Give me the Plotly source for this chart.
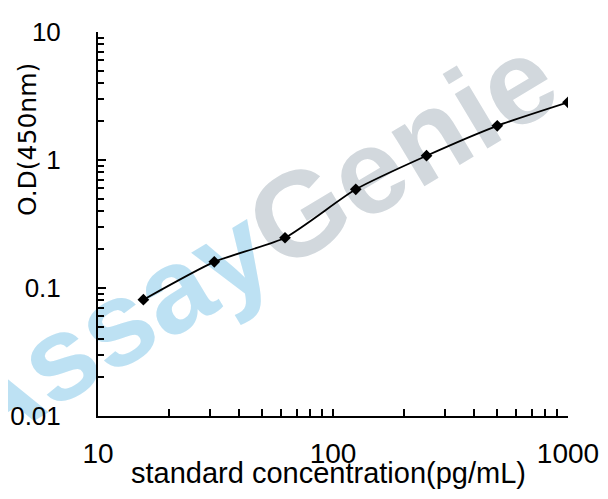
import plotly.graph_objects as go

# standard curve: concentration (pg/mL) vs O.D. at 450 nm
concentration = [15.6, 31.25, 62.5, 125, 250, 500, 1000]
od_450 = [0.081, 0.160, 0.247, 0.59, 1.08, 1.85, 2.82]

x_ticks = [10, 100, 1000]
x_tick_text = ["10", "100", "1000"]
y_ticks = [0.01, 0.1, 1, 10]
y_tick_text = ["0.01", "0.1", "1", "10"]

sans = "Liberation Sans, Arial"

fig = go.Figure()
fig.add_trace(go.Scatter(
    x=concentration, y=od_450,
    mode="lines+markers",
    line=dict(color="black", width=1.8, shape="spline", smoothing=0.6),
    marker=dict(symbol="diamond", size=9, color="black"),
    showlegend=False,
))

fig.update_xaxes(
    type="log", range=[1, 3], automargin=False,
    tickvals=x_ticks, ticktext=x_tick_text,
    ticks="inside", ticklen=7, tickwidth=1.5, tickcolor="black",
    ticklabelstandoff=11,
    tickfont=dict(family=sans, size=28, color="black"),
    minor=dict(ticks="inside", ticklen=7, tickwidth=1.5, tickcolor="black", dtick="D1", showgrid=False),
    showline=True, linecolor="black", linewidth=2,
    showgrid=False, zeroline=False,
)
fig.update_yaxes(
    type="log", range=[-2, 1], automargin=False,
    tickvals=y_ticks, ticktext=y_tick_text,
    ticks="inside", ticklen=8, tickwidth=1.5, tickcolor="black",
    ticklabelstandoff=30,
    tickfont=dict(family=sans, size=26, color="black"),
    minor=dict(ticks="inside", ticklen=6, tickwidth=1.5, tickcolor="black", dtick="D1", showgrid=False),
    showline=True, linecolor="black", linewidth=2,
    showgrid=False, zeroline=False,
)

# watermark, kept under the curve
fig.add_shape(
    type="rect", xref="paper", yref="paper",
    x0=0.306, x1=0.316, y0=0.472, y1=0.482,
    line=dict(width=0), fillcolor="rgba(0,0,0,0)", layer="below",
    label=dict(
        text="<span style='color:#bde1f3'>Assay</span><span style='color:#d2d8dd'>Genie</span>",
        textangle=-31, textposition="middle center",
        font=dict(family=sans, size=120, weight="bold"),
    ),
)

fig.add_annotation(
    text="standard concentration(pg/mL)", xref="paper", yref="paper",
    x=0.49, y=-0.148, xanchor="center", yanchor="middle", showarrow=False,
    font=dict(family=sans, size=29, color="black"),
)
fig.add_annotation(
    text="O.D(450nm)", xref="paper", yref="paper",
    x=-0.15, y=0.72, xanchor="center", yanchor="middle", showarrow=False,
    textangle=-90,
    font=dict(family="DejaVu Sans", size=25, color="black"),
)

# the page adds an 8px body margin, so the figure is 8px smaller than the window
fig.update_layout(
    width=600, height=491,
    margin=dict(l=90, r=40, t=24, b=83),
    plot_bgcolor="white", paper_bgcolor="white",
)

fig.write_html("out.html")
